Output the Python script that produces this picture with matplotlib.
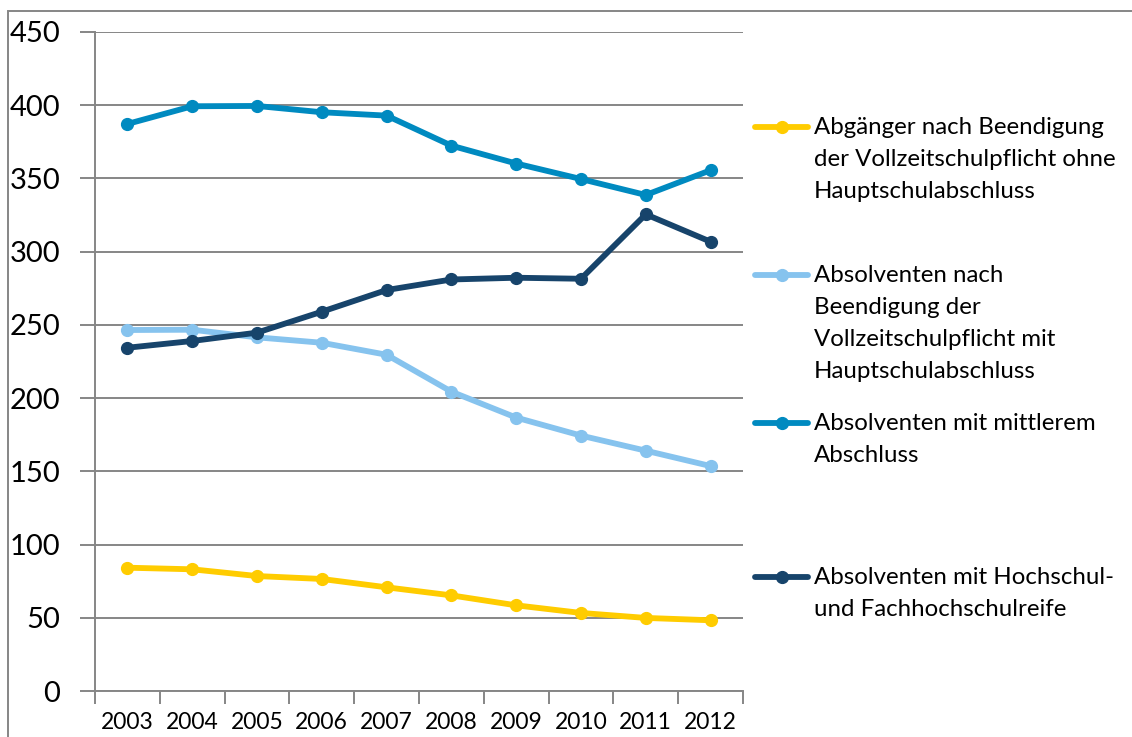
import matplotlib
matplotlib.use("Agg")
import matplotlib.pyplot as plt
from matplotlib.lines import Line2D
from matplotlib.patches import Rectangle
import numpy as np

years = ["2003", "2004", "2005", "2006", "2007", "2008", "2009", "2010", "2011", "2012"]
ohne_hs = [84.2, 83.1, 78.5, 76.5, 70.8, 65.3, 58.5, 53.3, 49.9, 48.3]
mit_hs = [246.5, 246.7, 241.5, 237.8, 229.6, 204.4, 186.7, 174.4, 164.1, 153.6]
mittlerer = [387.2, 399.3, 399.5, 395.2, 392.9, 372.4, 360.2, 349.6, 338.7, 355.6]
hochschul = [234.4, 239.0, 244.7, 259.0, 273.8, 281.0, 282.2, 281.5, 325.5, 306.8]

labels = [
    "Abgänger nach Beendigung\nder Vollzeitschulpflicht ohne\nHauptschulabschluss",
    "Absolventen nach\nBeendigung der\nVollzeitschulpflicht mit\nHauptschulabschluss",
    "Absolventen mit mittlerem\nAbschluss",
    "Absolventen mit Hochschul-\nund Fachhochschulreife",
]
series = [ohne_hs, mit_hs, mittlerer, hochschul]
colors = ["#FFCC00", "#86C3EE", "#008AC0", "#17446B"]
y_ticks = [0, 50, 100, 150, 200, 250, 300, 350, 400, 450]

plt.rcParams['font.family'] = ['Lato', 'DejaVu Sans']

W, H = 1132, 737
fig = plt.figure(figsize=(W / 100, H / 100), dpi=100)

def fx(px):
    return px / W

def fy(py):
    return 1 - py / H

ax = fig.add_axes([fx(95), fy(691), fx(743) - fx(95), fy(32) - fy(691)])

x = np.arange(len(years))
for s, c in zip(series, colors):
    ax.plot(x, s, color=c, lw=4.2, marker='o', ms=8.5, solid_capstyle='round',
            solid_joinstyle='round', zorder=3)

ax.set_xlim(-0.5, len(years) - 0.5)
ax.set_ylim(0, 450)
ax.set_yticks(y_ticks)
ax.set_yticklabels([str(v) for v in y_ticks], fontsize=21)
ax.yaxis.grid(True, color='#868686', lw=1.4)
ax.set_axisbelow(True)

ax.set_xticks(x)
ax.set_xticklabels(years, fontsize=16.5)
ax.set_xticks(np.arange(-0.5, len(years), 1.0), minor=True)
ax.tick_params(axis='x', which='major', length=0, pad=15)
ax.tick_params(axis='x', which='minor', length=9, color='#868686', width=1.4, direction='out')
ax.tick_params(axis='y', length=11, color='#868686', width=1.4, direction='out', pad=14)

for sp in ['top', 'right']:
    ax.spines[sp].set_visible(False)
for sp in ['left', 'bottom']:
    ax.spines[sp].set_color('#868686')
    ax.spines[sp].set_linewidth(1.4)

# legend (manual, to match irregular spacing)
leg_y = [127, 275, 423, 577]
line_h = 32
for lab, c, yy in zip(labels, colors, leg_y):
    fig.add_artist(Line2D([fx(755), fx(808)], [fy(yy), fy(yy)], color=c, lw=4.2,
                          solid_capstyle='round', transform=fig.transFigure))
    fig.add_artist(Line2D([fx(781.5)], [fy(yy)], color=c, marker='o', ms=8.5,
                          transform=fig.transFigure))
    for i, ln in enumerate(lab.split("\n")):
        fig.text(fx(814), fy(yy + i * line_h), ln, fontsize=17.3, va='center',
                 ha='left', color='black')

# outer frame
fig.add_artist(Rectangle((fx(8), fy(800)), fx(1200) - fx(8), fy(11) - fy(800),
                         fill=False, edgecolor='#868686', lw=1.4,
                         transform=fig.transFigure))

fig.savefig("out.png", dpi=100)
